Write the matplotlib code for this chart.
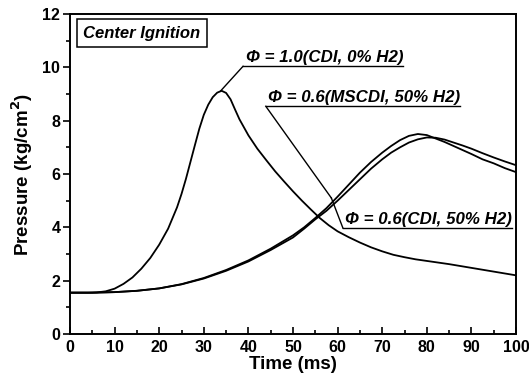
import matplotlib
matplotlib.use("Agg")
import matplotlib.pyplot as plt
from matplotlib.ticker import MultipleLocator

plt.rcParams['font.family'] = ['Liberation Sans', 'DejaVu Sans']

# Time (ms) / Pressure (kg/cm2)
t_cdi10 = [0, 4, 6, 8, 10, 12, 14, 16, 18, 20, 22, 24, 25, 26, 27, 28, 29, 30, 31, 32, 33,
           34, 35, 36, 37, 38, 40, 42, 44, 46, 48, 50, 52, 54, 56, 58, 60, 62.5, 65, 67.5,
           70, 72.5, 75, 77.5, 80, 82.5, 85, 87.5, 90, 92.5, 95, 97.5, 100]
p_cdi10 = [1.55, 1.55, 1.56, 1.6, 1.7, 1.88, 2.12, 2.45, 2.85, 3.35, 3.95, 4.75, 5.25, 5.82,
           6.45, 7.08, 7.7, 8.22, 8.6, 8.88, 9.05, 9.12, 9.04, 8.8, 8.42, 8.05, 7.45, 6.95,
           6.52, 6.1, 5.72, 5.35, 5.0, 4.67, 4.35, 4.08, 3.85, 3.63, 3.43, 3.25, 3.1, 2.97,
           2.88, 2.8, 2.74, 2.68, 2.62, 2.55, 2.48, 2.41, 2.34, 2.27, 2.2]

t_slow = [0, 5, 10, 15, 20, 25, 30, 35, 40, 45, 50, 52.5, 55, 57.5, 60, 62.5, 65, 67.5,
          70, 72, 74, 76, 78, 80, 82, 84, 86, 88, 90, 92.5, 95, 97.5, 100]
p_mscdi06 = [1.55, 1.55, 1.57, 1.62, 1.71, 1.87, 2.1, 2.4, 2.76, 3.2, 3.7, 4.0, 4.35, 4.72,
             5.15, 5.6, 6.05, 6.45, 6.8, 7.05, 7.27, 7.43, 7.5, 7.46, 7.33, 7.2, 7.05, 6.9,
             6.75, 6.55, 6.4, 6.22, 6.07]
p_cdi06 = [1.55, 1.55, 1.57, 1.62, 1.71, 1.86, 2.08, 2.37, 2.72, 3.15, 3.62, 3.95, 4.3, 4.62,
           5.0, 5.4, 5.8, 6.2, 6.55, 6.8, 7.0, 7.18, 7.3, 7.37, 7.36, 7.29, 7.18, 7.07,
           6.95, 6.78, 6.62, 6.47, 6.33]

label_cdi10 = "Φ = 1.0(CDI, 0% H2)"
label_mscdi06 = "Φ = 0.6(MSCDI, 50% H2)"
label_cdi06 = "Φ = 0.6(CDI, 50% H2)"

fig = plt.figure(figsize=(5.29, 3.83), dpi=100)
ax = fig.add_axes([70/529, 1-334/383, (516-70)/529, (334-14)/383])

lw = 1.3
for t, p in [(t_cdi10, p_cdi10), (t_slow, p_mscdi06), (t_slow, p_cdi06)]:
    ax.plot(t, p, color='black', lw=lw, solid_joinstyle='round')

ax.set_xlim(0, 100)
ax.set_ylim(0, 12)
ax.xaxis.set_major_locator(MultipleLocator(10))
ax.xaxis.set_minor_locator(MultipleLocator(5))
ax.yaxis.set_major_locator(MultipleLocator(2))
ax.yaxis.set_minor_locator(MultipleLocator(1))
ax.tick_params(axis='x', which='major', direction='in', length=5, width=1.2, pad=4)
ax.tick_params(axis='x', which='minor', direction='in', length=3, width=1.2)
ax.tick_params(axis='y', which='major', direction='out', length=5, width=1.2, pad=2)
ax.tick_params(axis='y', which='minor', direction='out', length=3, width=1.2)
for lab in ax.get_xticklabels() + ax.get_yticklabels():
    lab.set_fontweight('bold')
    lab.set_fontsize(11.5)
for s in ax.spines.values():
    s.set_linewidth(1.4)

ax.set_xlabel("Time (ms)", fontsize=13.5, fontweight='bold', labelpad=1)
ax.set_ylabel("Pressure (kg/cm$^\\mathbf{2}$)", fontsize=13.5, fontweight='bold', labelpad=5)

# Center Ignition box
ax.text(0.03, 0.94, "Center Ignition", transform=ax.transAxes, fontsize=12,
        fontweight='bold', style='italic', va='center', ha='left',
        bbox=dict(boxstyle='square,pad=0.4', fc='white', ec='black', lw=1.1))

lk = dict(color='black', lw=1.0)
tk = dict(fontsize=12.2, fontweight='bold', style='italic', ha='left', va='bottom')

fig.canvas.draw()
renderer = fig.canvas.get_renderer()
inv = ax.transData.inverted()

def label(txt, x0, y0, tx):
    t = ax.text(tx, y0 + 0.06, txt, **tk)
    bb = t.get_window_extent(renderer=renderer)
    x1 = inv.transform((bb.x1, bb.y0))[0]
    ax.plot([x0, x1], [y0, y0], **lk)

# Phi = 1.0 label
ax.plot([33.8, 38.8], [9.12, 10.04], **lk)
label(label_cdi10, 38.8, 10.04, 39.4)

# Phi = 0.6 MSCDI label
ax.plot([43.9, 58.6], [8.54, 5.1], **lk)
label(label_mscdi06, 43.9, 8.54, 44.4)

# Phi = 0.6 CDI label
ax.plot([58.6, 61.2], [5.1, 3.97], **lk)
label(label_cdi06, 61.2, 3.97, 61.6)

fig.savefig("out.png", dpi=100)
